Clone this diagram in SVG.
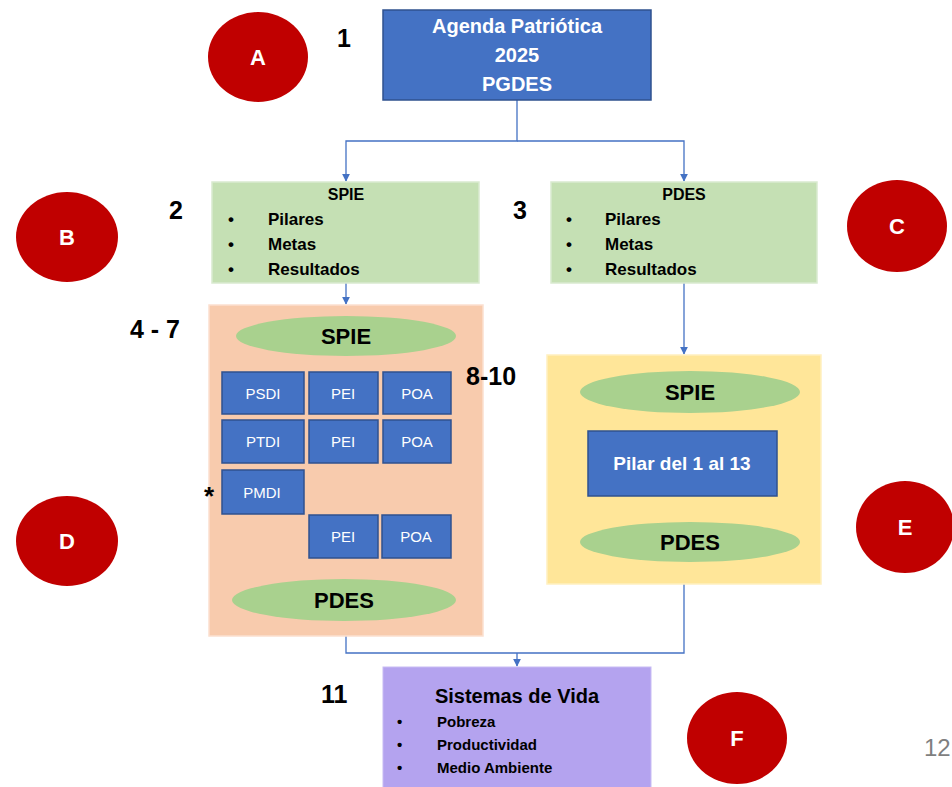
<svg xmlns="http://www.w3.org/2000/svg" width="952" height="787" viewBox="0 0 952 787">
<defs>
<style>
text{font-family:"Liberation Sans",Arial,sans-serif}
.blue{fill:#4472C4;stroke:#2F528F;stroke-width:1.5}
.green{fill:#C5E0B4;stroke:#D9EAD0;stroke-width:1.5}
.ell{fill:#A9D18E}
.red{fill:#C00000}
.rl{fill:#fff;font-weight:bold;font-size:22px;text-anchor:middle}
.num{fill:#000;font-weight:bold;font-size:25px}
.bt{font-weight:bold;font-size:17px;fill:#000}
.sm{fill:#fff;font-size:15px;text-anchor:middle}
.el{font-weight:bold;font-size:22px;text-anchor:middle;fill:#000}
.con{fill:none;stroke:#4472C4;stroke-width:1.3}
</style>
<marker id="ah" viewBox="0 0 10 10" refX="9" refY="5" markerWidth="8" markerHeight="8" markerUnits="userSpaceOnUse" orient="auto"><path d="M0,0 L10,5 L0,10 z" fill="#4472C4"/></marker>
</defs>
<rect width="952" height="787" fill="#fff"/>
<g id="connectors">
<path class="con" d="M517,100 V141 H346 V181" marker-end="url(#ah)"/>
<path class="con" d="M517,141 H684 V181" marker-end="url(#ah)"/>
<path class="con" d="M346,283 V304" marker-end="url(#ah)"/>
<path class="con" d="M684,283 V354" marker-end="url(#ah)"/>
<path class="con" d="M346,636 V653 H684 V584"/>
<path class="con" d="M517,653 V666" marker-end="url(#ah)"/>
</g>
<g id="circles">
<g id="circA"><ellipse class="red" cx="258" cy="57" rx="50" ry="45"/><text class="rl" x="258" y="65">A</text></g>
<g id="circB"><ellipse class="red" cx="67" cy="237" rx="51" ry="45"/><text class="rl" x="67" y="245">B</text></g>
<g id="circC"><ellipse class="red" cx="897" cy="226" rx="50" ry="46"/><text class="rl" x="897" y="234">C</text></g>
<g id="circD"><ellipse class="red" cx="67" cy="541" rx="51" ry="45"/><text class="rl" x="67" y="549">D</text></g>
<g id="circE"><ellipse class="red" cx="905" cy="527" rx="49" ry="46"/><text class="rl" x="905" y="535">E</text></g>
<g id="circF"><ellipse class="red" cx="737" cy="738" rx="50" ry="46"/><text class="rl" x="737" y="746">F</text></g>
</g>
<g id="n1">
<rect class="blue" x="383" y="10" width="268" height="90"/>
<text x="517" y="33" fill="#fff" font-weight="bold" font-size="20" text-anchor="middle">Agenda Patriótica</text>
<text x="517" y="62" fill="#fff" font-weight="bold" font-size="20" text-anchor="middle">2025</text>
<text x="517" y="91" fill="#fff" font-weight="bold" font-size="20" text-anchor="middle">PGDES</text>
</g>
<g id="n2">
<rect class="green" x="212" y="182" width="267" height="101"/>
<text x="346" y="200" font-size="16" font-weight="bold" text-anchor="middle">SPIE</text>
<text class="bt" x="228" y="225">•</text><text class="bt" x="268" y="225">Pilares</text>
<text class="bt" x="228" y="250">•</text><text class="bt" x="268" y="250">Metas</text>
<text class="bt" x="228" y="275">•</text><text class="bt" x="268" y="275">Resultados</text>
</g>
<g id="n3">
<rect class="green" x="551" y="182" width="266" height="101"/>
<text x="684" y="200" font-size="16" font-weight="bold" text-anchor="middle">PDES</text>
<text class="bt" x="566" y="225">•</text><text class="bt" x="605" y="225">Pilares</text>
<text class="bt" x="566" y="250">•</text><text class="bt" x="605" y="250">Metas</text>
<text class="bt" x="566" y="275">•</text><text class="bt" x="605" y="275">Resultados</text>
</g>
<g id="n4">
<rect x="209" y="305" width="274" height="331" fill="#F8CBAD" stroke="#FBE0D0" stroke-width="1.5"/>
<ellipse class="ell" cx="346" cy="336" rx="110" ry="20"/>
<text class="el" x="346" y="344">SPIE</text>
<rect class="blue" x="222" y="372" width="82" height="42"/><text class="sm" x="263" y="399">PSDI</text>
<rect class="blue" x="309" y="372" width="69" height="42"/><text class="sm" x="343" y="399">PEI</text>
<rect class="blue" x="383" y="372" width="68" height="42"/><text class="sm" x="417" y="399">POA</text>
<rect class="blue" x="222" y="420" width="82" height="43"/><text class="sm" x="263" y="447">PTDI</text>
<rect class="blue" x="309" y="420" width="69" height="43"/><text class="sm" x="343" y="447">PEI</text>
<rect class="blue" x="383" y="420" width="68" height="43"/><text class="sm" x="417" y="447">POA</text>
<rect class="blue" x="222" y="470" width="82" height="44"/><text class="sm" x="262" y="498">PMDI</text>
<rect class="blue" x="309" y="515" width="69" height="43"/><text class="sm" x="343" y="542">PEI</text>
<rect class="blue" x="382" y="515" width="69" height="43"/><text class="sm" x="416" y="542">POA</text>
<ellipse class="ell" cx="344" cy="600" rx="112" ry="21"/>
<text class="el" x="344" y="608">PDES</text>
</g>
<g id="n5">
<rect x="547" y="355" width="274" height="229" fill="#FFE699" stroke="#FFF0C0" stroke-width="1.5"/>
<ellipse class="ell" cx="690" cy="392" rx="110" ry="21"/>
<text class="el" x="690" y="400">SPIE</text>
<rect class="blue" x="588" y="431" width="189" height="65"/>
<text x="682" y="470" fill="#fff" font-weight="bold" font-size="19" text-anchor="middle">Pilar del 1 al 13</text>
<ellipse class="ell" cx="690" cy="542" rx="110" ry="20"/>
<text class="el" x="690" y="550">PDES</text>
</g>
<g id="n6">
<rect x="383" y="667" width="268" height="125" fill="#B4A3EF" stroke="#C8BCF4" stroke-width="1"/>
<text x="517" y="703" font-weight="bold" font-size="20" text-anchor="middle">Sistemas de Vida</text>
<text x="397" y="727" font-weight="bold" font-size="15">•</text><text x="437" y="727" font-weight="bold" font-size="15">Pobreza</text>
<text x="397" y="750" font-weight="bold" font-size="15">•</text><text x="437" y="750" font-weight="bold" font-size="15">Productividad</text>
<text x="397" y="773" font-weight="bold" font-size="15">•</text><text x="437" y="773" font-weight="bold" font-size="15">Medio Ambiente</text>
</g>
<g id="labels">
<text class="num" x="337" y="47">1</text>
<text class="num" x="169" y="219">2</text>
<text class="num" x="513" y="219">3</text>
<text class="num" x="130" y="338">4 - 7</text>
<text class="num" x="466" y="385">8-10</text>
<text class="num" x="321" y="703">11</text>
<text x="209" y="505" font-weight="bold" font-size="26" text-anchor="middle">*</text>
<text x="924" y="756" font-size="24" fill="#7F7F7F">12</text>
</g>
</svg>
